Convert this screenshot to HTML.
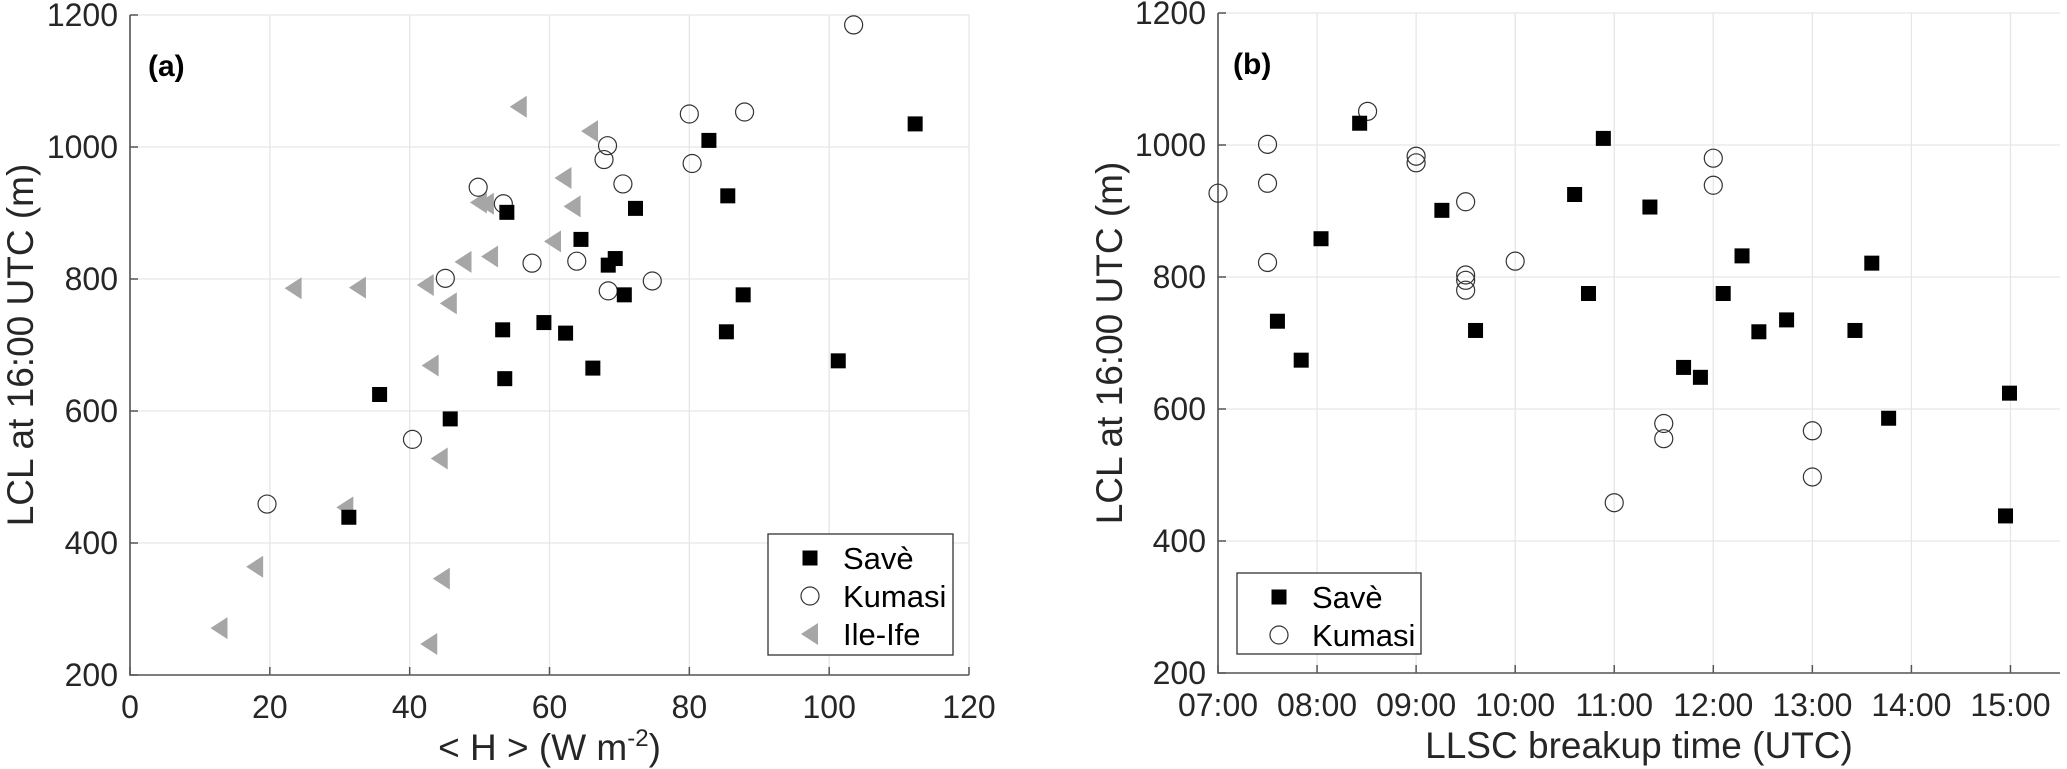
<!DOCTYPE html>
<html><head><meta charset="utf-8"><style>
html,body{margin:0;padding:0;background:#fff}
svg{display:block;font-family:"Liberation Sans",sans-serif}
</style></head><body>
<svg id="fig" width="2067" height="769" viewBox="0 0 2067 769"></svg>
<script>
// Panel (a) data
const aSaveX=[31.3,35.7,45.8,53.3,53.6,53.9,59.2,62.3,64.5,66.2,68.4,69.4,70.7,72.3,82.8,85.5,85.3,87.7,101.3,112.3];
const aSaveY=[439,625,588,723,649,901,734,718,860,665,821,831,776,907,1010,926,720,776,676,1035];
const aKumX=[19.6,40.4,45.1,49.8,53.4,57.5,63.9,67.8,68.3,68.4,70.5,74.7,80.0,80.4,87.9,103.5];
const aKumY=[459,557,801,939,914,824,827,981,1002,782,944,797,1050,975,1053,1185];
const aIleX=[12.8,17.9,23.4,32.6,30.8,55.6,42.8,44.6,44.3,43.0,42.3,45.6,47.7,51.5,49.9,50.9,60.5,62.0,63.3,65.8];
const aIleY=[271,364,786,787,454,1061,247,346,528,669,791,763,826,834,916,914,857,953,910,1024];
const aXTicks=[0,20,40,60,80,100,120];
const yTicks=[200,400,600,800,1000,1200];
// Panel (b) data (hours UTC)
const bSaveX=[7.60,7.84,8.04,8.43,9.26,9.60,10.60,10.74,10.89,11.36,11.70,11.87,12.10,12.29,12.46,12.74,13.43,13.60,13.77,14.99,14.95];
const bSaveY=[733,674,858,1033,901,719,925,775,1010,906,663,648,775,832,717,735,719,821,586,624,438];
const bKumX=[7.0,7.5,7.5,7.5,8.51,9.0,9.0,9.5,9.5,9.5,9.5,10.0,11.0,11.5,11.5,12.0,12.0,13.0,13.0];
const bKumY=[927,1001,942,822,1051,983,973,914,803,795,780,824,458,578,555,980,939,567,497];
const bXTicks=[7,8,9,10,11,12,13,14,15];
const bXLabels=["07:00","08:00","09:00","10:00","11:00","12:00","13:00","14:00","15:00"];

const NS="http://www.w3.org/2000/svg";
const svg=document.getElementById('fig');
function mk(tag,attrs,parent){const e=document.createElementNS(NS,tag);for(const k in attrs)e.setAttribute(k,attrs[k]);(parent||svg).appendChild(e);return e;}

function axes(cfg){
  const g=mk('g',{});
  
  
  const sx=v=>cfg.x0+(v-cfg.xmin)/(cfg.xmax-cfg.xmin)*(cfg.x1-cfg.x0);
  const sy=v=>cfg.y0-(v-200)/1000*(cfg.y0-cfg.y1);
  cfg.xticks.forEach((t,i)=>{
    const gl=mk('line',{x1:sx(t),x2:sx(t),y1:cfg.y1,y2:cfg.y0,stroke:'#e6e6e6','stroke-width':1.3},g);
    
    
    mk('line',{x1:sx(t),x2:sx(t),y1:cfg.y0,y2:cfg.y0-8,stroke:'#555','stroke-width':1.5},g);
    const tx=mk('text',{x:sx(t),y:cfg.y0+43,'text-anchor':'middle','font-size':32,fill:'#262626'},g);
    tx.textContent=cfg.xlabels?cfg.xlabels[i]:t;
    
    
  });
  yTicks.forEach(t=>{
    const gl=mk('line',{x1:cfg.x0,x2:cfg.x1,y1:sy(t),y2:sy(t),stroke:'#e6e6e6','stroke-width':1.3},g);
    
    
    mk('line',{x1:cfg.x0,x2:cfg.x0+8,y1:sy(t),y2:sy(t),stroke:'#555','stroke-width':1.5},g);
    const tx=mk('text',{x:cfg.x0-12,y:sy(t)+11,'text-anchor':'end','font-size':32,fill:'#262626'},g);
    tx.textContent=t;
    
    
  });
  const ax=mk('path',{d:`M${cfg.x0},${cfg.y1}V${cfg.y0}H${cfg.x1}`,fill:'none',stroke:'#555','stroke-width':1.6},g);
  
  
  const xl=mk('text',{x:(cfg.x0+cfg.x1)/2,y:cfg.xlabY,'text-anchor':'middle','font-size':37,fill:'#262626'},g);
  xl.innerHTML=cfg.xtitle;
  
  
  const yl=mk('text',{x:0,y:0,'text-anchor':'middle','font-size':37,fill:'#262626',transform:`translate(${cfg.ylabX},${(cfg.y0+cfg.y1)/2}) rotate(-90)`},g);
  yl.textContent='LCL at 16:00 UTC (m)';
  
  
  const pl=mk('text',{x:cfg.panelX,y:cfg.panelY,'font-size':30,'font-weight':'bold',fill:'#000'},g);
  pl.textContent=cfg.panel;
  
  
  return {g,sx,sy};
}
function square(g,x,y){return mk('rect',{x:x-7.5,y:y-7.5,width:15,height:15,fill:'#000'},g);}
function circle(g,x,y){return mk('circle',{cx:x,cy:y,r:9,fill:'none',stroke:'#333','stroke-width':1.2},g);}
function tri(g,x,y){return mk('path',{d:`M${x-9},${y}L${x+8},${y-11}L${x+8},${y+11}Z`,fill:'#a6a6a6'},g);}

// Panel a
const A=axes({name:'panel-a',x0:130,x1:969,y0:675,y1:15,xmin:0,xmax:120,xticks:aXTicks,
  xtitle:'&lt; H &gt; (W m<tspan dy="-14" font-size="24">-2</tspan><tspan dy="14">)</tspan>',xlabY:760,ylabX:33,panel:'(a)',panelX:148,panelY:76});
aIleX.forEach((v,i)=>{const m=tri(A.g,A.sx(v),A.sy(aIleY[i]));
  
  });
aKumX.forEach((v,i)=>{const m=circle(A.g,A.sx(v),A.sy(aKumY[i]));
  
  });
aSaveX.forEach((v,i)=>{const m=square(A.g,A.sx(v),A.sy(aSaveY[i]));
  
  });

// Panel b
const B=axes({name:'panel-b',x0:1218,x1:2060,y0:673,y1:13,xmin:7,xmax:15.5,xticks:bXTicks,xlabels:bXLabels,
  xtitle:'LLSC breakup time (UTC)',xlabY:758,ylabX:1122,panel:'(b)',panelX:1233,panelY:74});
bKumX.forEach((v,i)=>{const m=circle(B.g,B.sx(v),B.sy(bKumY[i]));
  
  });
bSaveX.forEach((v,i)=>{const m=square(B.g,B.sx(v),B.sy(bSaveY[i]));
  
  });

// Legends
function legend(x,y,w,h,items,name){
  const g=mk('g',{});
  
  
  mk('rect',{x,y,width:w,height:h,fill:'#fff',stroke:'#333','stroke-width':1.3},g);
  items.forEach((it,i)=>{
    const cy=y+24+i*38;
    let m;
    if(it[0]==='s')m=square(g,x+42,cy);else if(it[0]==='c')m=circle(g,x+42,cy);else m=tri(g,x+42,cy);
    
    
    const t=mk('text',{x:x+75,y:cy+11,'font-size':31,fill:'#000'},g);
    t.textContent=it[1];
    
    
  });
}
legend(768,534,185,121,[['s','Savè'],['c','Kumasi'],['t','Ile-Ife']],'legend-a');
legend(1237,573,184,81,[['s','Savè'],['c','Kumasi']],'legend-b');
</script>
</body></html>
